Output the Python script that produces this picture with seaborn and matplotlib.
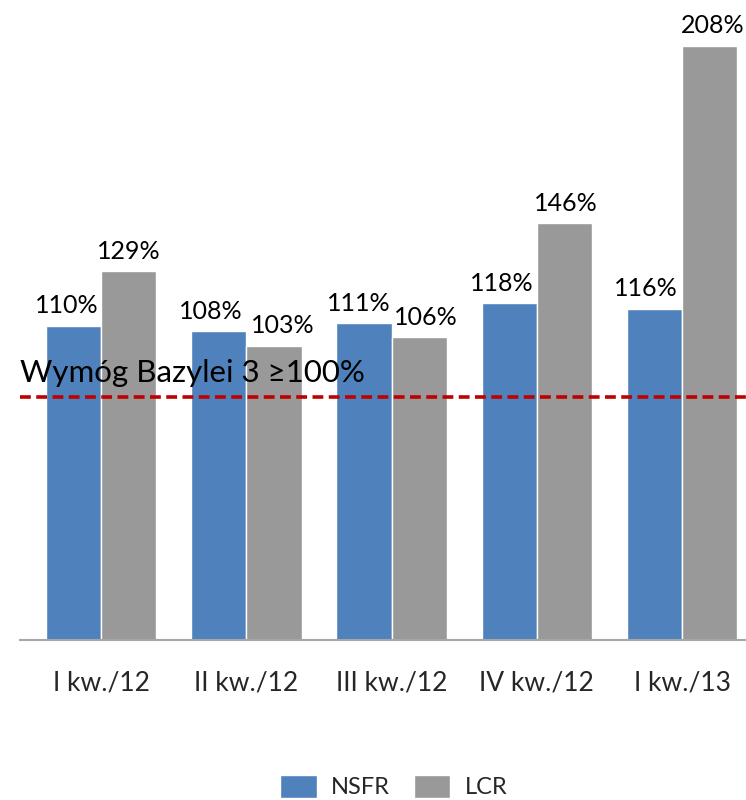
import pandas as pd
import numpy as np
import matplotlib
matplotlib.use("Agg")
import matplotlib.pyplot as plt
import seaborn as sns

# data
quarters = ["I kw./12", "II kw./12", "III kw./12", "IV kw./12", "I kw./13"]
nsfr = [110, 108, 111, 118, 116]
lcr = [129, 103, 106, 146, 208]
series = ["NSFR", "LCR"]
palette = {"NSFR": "#4F81BD", "LCR": "#999999"}
req_level = 85  # where the dashed requirement line sits in the picture
req_label = "Wymóg Bazylei 3 ≥100%"

# horizontal nudges of the value labels (pixels), as placed in the original
label_dx = {"NSFR": [-7, -8, -5, -7, -9], "LCR": [0, 9, 7, 1, 3]}

df = pd.DataFrame({
    "quarter": quarters * 2,
    "series": ["NSFR"] * len(quarters) + ["LCR"] * len(quarters),
    "value": nsfr + lcr,
})

sns.set_theme(style="white")
plt.rcParams["font.family"] = ["Lato", "DejaVu Sans"]

fig = plt.figure(figsize=(7.46, 8), dpi=100)
ax = fig.add_axes([20 / 746, 0.2, 726 / 746, 0.8])

sns.barplot(data=df, x="quarter", y="value", hue="series", palette=palette,
            order=quarters, hue_order=series, width=0.76, gap=0.0,
            saturation=1, edgecolor="white", linewidth=1, ax=ax)

for cont, name in zip(ax.containers, series):
    for bar, v, dx in zip(cont, cont.datavalues, label_dx[name]):
        ax.annotate(f"{v:.0f}%", (bar.get_x() + bar.get_width() / 2, v),
                    xytext=(dx * 0.72, 6), textcoords="offset points",
                    ha="center", va="bottom", fontsize=18, color="black")

ax.axhline(req_level, color="#C00000", linestyle=(0, (3, 1.5)), linewidth=2.6, zorder=5)
ax.text(0.0, req_level + 3.5, req_label, fontsize=22.5, color="black",
        transform=ax.get_yaxis_transform(), ha="left", va="bottom", zorder=6)

ax.set_ylim(0, 224)
ax.set_xlim(-0.558, 4.44)
ax.set_xlabel("")
ax.set_ylabel("")
ax.set_yticks([])
ax.tick_params(axis="x", length=0, pad=22, labelsize=19)
for s in ["left", "right", "top"]:
    ax.spines[s].set_visible(False)
ax.spines["bottom"].set_color("#A6A6A6")
ax.spines["bottom"].set_linewidth(1.5)

ax.legend(loc="center", bbox_to_anchor=(0.515, -0.229), ncol=2, frameon=False,
          fontsize=17, handlelength=1.55, handleheight=1.1, columnspacing=1.0,
          handletextpad=0.6)

fig.savefig("out.png", dpi=100)
